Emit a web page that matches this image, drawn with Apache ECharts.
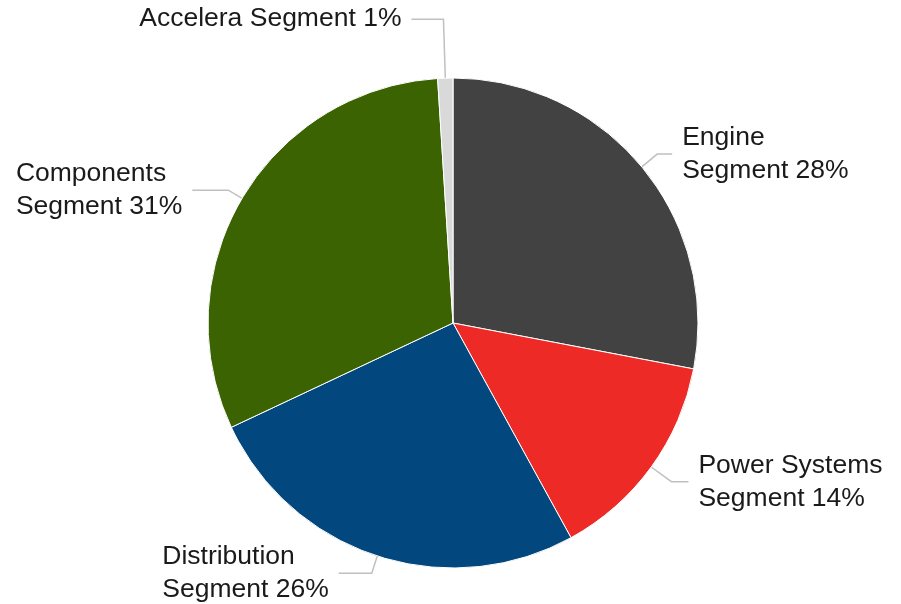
<!DOCTYPE html>
<html>
<head>
<meta charset="utf-8">
<script src="https://cdn.jsdelivr.net/npm/echarts@6/dist/echarts.min.js"></script>
<style>
  html, body { margin: 0; padding: 0; background: #fff; }
  #chart { width: 901px; height: 604px; }
</style>
</head>
<body>
<div id="chart"></div>
<script>
// clockwise from 12 o'clock
const segments = ["Engine", "Power Systems", "Distribution", "Components", "Accelera"];
const shares = [28, 14, 26, 31, 1];
const colors = ["#424242", "#ee2a26", "#02477e", "#3b6302", "#d9d9d9"];

// leader line lengths per slice (radial, horizontal)
const lineLen = [20, 25, 18, 16, 59];
const lineLen2 = [15, 17, 33, 36, 32];

const chart = echarts.init(document.getElementById("chart"), null, { renderer: "canvas" });

function labelText(p) {
  const name = segments[p.dataIndex];
  if (name === "Accelera") return "{t|" + name + " Segment " + p.value + "%}";
  return "{t|" + name + "}\n{t|Segment " + p.value + "%}";
}

chart.setOption({
  animation: false,
  backgroundColor: "#fff",
  series: [
    {
      type: "pie",
      center: [453, 323],
      radius: 245,
      startAngle: 90,
      clockwise: true,
      avoidLabelOverlap: false,
      itemStyle: { borderColor: "#fff", borderWidth: 1 },
      label: {
        show: true,
        position: "outside",
        distanceToLabelLine: 10,
        formatter: labelText,
        rich: {
          t: {
            align: "left",
            fontFamily: "'Liberation Sans', Arial, sans-serif",
            fontSize: 26.5,
            lineHeight: 33,
            color: "#1a1a1a",
          },
        },
      },
      labelLine: {
        show: true,
        lineStyle: { color: "#c0c0c0", width: 1.5 },
      },
      emphasis: { disabled: true },
      data: segments.map((name, i) => ({
        name,
        value: shares[i],
        itemStyle: { color: colors[i] },
        labelLine: { length: lineLen[i], length2: lineLen2[i] },
      })),
    },
  ],
});
</script>
</body>
</html>
